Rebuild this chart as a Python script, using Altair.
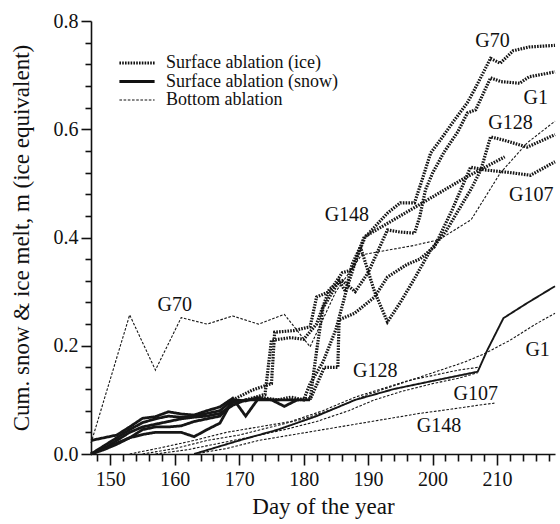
import altair as alt
import pandas as pd

# ---- surface ablation (snow), early season, plus the late G1 snow record ----
snow_a_day = [147, 151, 153, 155, 157, 159, 161, 163, 165, 167, 169, 171, 173, 175, 177, 179, 181]
snow_a_val = [0.025, 0.035, 0.050, 0.066, 0.069, 0.078, 0.074, 0.072, 0.080, 0.087, 0.103, 0.070, 0.103, 0.100, 0.088, 0.100, 0.100]
snow_b_day = [147, 149, 151, 153, 155, 157, 159, 161, 163, 165, 167, 169]
snow_b_val = [0.0, 0.015, 0.030, 0.045, 0.058, 0.065, 0.070, 0.068, 0.070, 0.075, 0.080, 0.100]
snow_c_day = [147, 149, 151, 153, 155, 157, 159, 161, 163, 165, 167, 169, 171]
snow_c_val = [0.0, 0.010, 0.025, 0.040, 0.050, 0.055, 0.060, 0.065, 0.068, 0.070, 0.075, 0.090, 0.100]
snow_d_day = [147, 149, 151, 153, 155, 157, 159, 161, 163, 165, 167, 169, 171, 173]
snow_d_val = [0.0, 0.010, 0.020, 0.030, 0.036, 0.040, 0.040, 0.040, 0.032, 0.045, 0.057, 0.100, 0.098, 0.105]
snow_e_day = [147, 149, 151, 153, 155, 157, 159, 161, 163, 165, 167, 169, 171, 173, 175, 177, 179]
snow_e_val = [0.0, 0.008, 0.018, 0.030, 0.045, 0.050, 0.050, 0.052, 0.060, 0.065, 0.070, 0.095, 0.100, 0.100, 0.100, 0.100, 0.100]
snow_g1_day = [163, 170, 176, 182, 188, 194, 200, 207, 208.5, 211, 214.7, 219]
snow_g1_val = [0.0, 0.025, 0.045, 0.070, 0.100, 0.120, 0.135, 0.152, 0.192, 0.251, 0.279, 0.310]

# ---- surface ablation (ice) ----
ice_g70_day = [169, 172, 175, 175.5, 178.5, 181, 182, 184, 186, 187.5, 189.5, 193, 195, 197.2, 198.2,
               199.7, 201.2, 203.4, 205.4, 206.5, 209, 210.5, 212.5, 215, 219]
ice_g70_val = [0.100, 0.118, 0.130, 0.225, 0.228, 0.235, 0.290, 0.300, 0.335, 0.340, 0.400, 0.445, 0.464, 0.464, 0.500,
               0.556, 0.580, 0.617, 0.649, 0.673, 0.731, 0.722, 0.745, 0.752, 0.755]
ice_g1_day = [171, 174, 175, 178, 180, 182, 184, 186, 188, 190, 193, 195, 197.2, 198, 198.9, 200, 201.8,
              203.9, 205.4, 206.7, 209, 210.6, 213.5, 215, 219]
ice_g1_val = [0.100, 0.110, 0.210, 0.215, 0.212, 0.240, 0.305, 0.320, 0.300, 0.335, 0.414, 0.410, 0.408, 0.438, 0.488, 0.519, 0.558,
              0.595, 0.630, 0.636, 0.695, 0.688, 0.685, 0.697, 0.706]
ice_g128_day = [173, 176, 178, 180, 181, 183, 185, 186.8, 188.8, 191, 193, 195, 197, 199.7, 202, 204, 206,
                207.5, 209, 211, 214.7, 219]
ice_g128_val = [0.105, 0.100, 0.105, 0.100, 0.130, 0.170, 0.230, 0.310, 0.383, 0.300, 0.244, 0.280, 0.320, 0.377, 0.410, 0.450, 0.490,
                0.525, 0.586, 0.580, 0.567, 0.590]
ice_g107_day = [179, 181.1, 183.2, 185.3, 185.5, 187.9, 191, 193, 196, 198, 200.3, 203, 205.9, 208, 212, 215.2, 219]
ice_g107_val = [0.100, 0.103, 0.160, 0.160, 0.248, 0.260, 0.290, 0.327, 0.350, 0.360, 0.383, 0.450, 0.530, 0.525, 0.520, 0.515, 0.540]
ice_g148_day = [181, 182, 183, 184.5, 185.5, 186.5, 187.5, 188.8, 189.4, 195, 200, 205, 211.2]
ice_g148_val = [0.100, 0.190, 0.270, 0.300, 0.320, 0.300, 0.350, 0.383, 0.401, 0.440, 0.475, 0.510, 0.549]

# ---- bottom ablation ----
bot_g70_day = [147, 153, 157, 161, 165, 169, 173, 177, 181, 185, 189, 197, 201, 206, 210.5, 214.7, 219]
bot_g70_val = [0.020, 0.257, 0.155, 0.252, 0.240, 0.255, 0.240, 0.258, 0.198, 0.300, 0.368, 0.385, 0.396, 0.433, 0.519, 0.575, 0.615]
bot_g1_day = [155, 160, 165, 170, 175, 180, 185, 190, 195, 200, 205, 208, 212, 216, 219]
bot_g1_val = [0.0, 0.010, 0.025, 0.035, 0.050, 0.065, 0.085, 0.110, 0.130, 0.150, 0.170, 0.185, 0.210, 0.240, 0.260]
bot_g128_day = [153, 158, 163, 168, 173, 178, 183, 188, 192, 196, 200, 204, 207]
bot_g128_val = [0.0, 0.012, 0.025, 0.040, 0.050, 0.060, 0.080, 0.105, 0.120, 0.135, 0.145, 0.155, 0.160]
bot_g107_day = [157, 162, 167, 172, 177, 182, 187, 191, 195, 200, 204, 207]
bot_g107_val = [0.0, 0.008, 0.020, 0.032, 0.045, 0.060, 0.080, 0.100, 0.115, 0.130, 0.140, 0.150]
bot_g148_day = [163, 168, 173, 178, 183, 188, 193, 198, 203, 207, 209.6]
bot_g148_val = [0.0, 0.010, 0.025, 0.035, 0.045, 0.055, 0.065, 0.075, 0.083, 0.090, 0.094]

# ---- glacier labels ----
label_text = ["G70", "G70", "G1", "G128", "G107", "G148", "G128", "G107", "G148", "G1"]
label_day = [160.0, 209.3, 216.0, 212.1, 215.3, 186.7, 191.1, 206.7, 201.0, 216.3]
label_val = [0.275, 0.763, 0.658, 0.612, 0.479, 0.442, 0.153, 0.111, 0.052, 0.192]

ICE = "Surface ablation (ice)"
SNOW = "Surface ablation (snow)"
BOTTOM = "Bottom ablation"
SNOW_LATE = "Surface ablation (snow), late"

series = [
    ("snow_a", SNOW, snow_a_day, snow_a_val),
    ("snow_b", SNOW, snow_b_day, snow_b_val),
    ("snow_c", SNOW, snow_c_day, snow_c_val),
    ("snow_d", SNOW, snow_d_day, snow_d_val),
    ("snow_e", SNOW, snow_e_day, snow_e_val),
    ("snow_g1", SNOW_LATE, snow_g1_day, snow_g1_val),
    ("ice_g70", ICE, ice_g70_day, ice_g70_val),
    ("ice_g1", ICE, ice_g1_day, ice_g1_val),
    ("ice_g128", ICE, ice_g128_day, ice_g128_val),
    ("ice_g107", ICE, ice_g107_day, ice_g107_val),
    ("ice_g148", ICE, ice_g148_day, ice_g148_val),
    ("bot_g70", BOTTOM, bot_g70_day, bot_g70_val),
    ("bot_g1", BOTTOM, bot_g1_day, bot_g1_val),
    ("bot_g128", BOTTOM, bot_g128_day, bot_g128_val),
    ("bot_g107", BOTTOM, bot_g107_day, bot_g107_val),
    ("bot_g148", BOTTOM, bot_g148_day, bot_g148_val),
]

rows = []
for name, kind, days, vals in series:
    for i, (d, v) in enumerate(zip(days, vals)):
        rows.append({"series": name, "kind": kind, "day": d, "melt": v, "order": i})
lines_df = pd.DataFrame(rows)
labels_df = pd.DataFrame({"text": label_text, "day": label_day, "melt": label_val})

FONT = "Liberation Serif, Times New Roman, serif"
kinds = [ICE, SNOW, BOTTOM, SNOW_LATE]

x_ticks = list(range(148, 219, 2))
y_ticks = [round(i * 0.04, 2) for i in range(21)]
Y_MAJOR = "abs(datum.value * 5 - round(datum.value * 5)) < 0.001"

x_scale = alt.Scale(domain=[147, 219], nice=False, zero=False)
y_scale = alt.Scale(domain=[0, 0.8], nice=False)

x_axis = alt.Axis(
    values=x_ticks,
    labelExpr="datum.value % 10 == 0 ? datum.value : ''",
    tickSize={"condition": {"test": "datum.value % 10 == 0", "value": 11}, "value": 7},
    labelPadding=4, titlePadding=6, labelOverlap=False, labelFlush=False,
)
y_axis = alt.Axis(
    values=y_ticks,
    labelExpr=Y_MAJOR + " ? format(datum.value, '.1f') : ''",
    tickSize={"condition": {"test": Y_MAJOR, "value": 10}, "value": 6},
    labelPadding=3, titlePadding=20, labelOverlap=False, labelFlush=False,
)
X_TITLE = "Day of the year"
Y_TITLE = "Cum. snow & ice melt, m (ice equivalent)"

# short flat legend glyph: drawn wider than the nominal symbol box
legend = alt.Legend(
    title=None, orient="none", legendX=36, legendY=32, values=[ICE, SNOW, BOTTOM],
    symbolType="M-2.2,0H2.2", symbolSize=256, symbolStrokeColor="#111",
    labelFont=FONT, labelFontSize=18, labelColor="#111", labelOffset=19, labelLimit=400,
    rowPadding=-5, padding=0,
)

lines = alt.Chart(lines_df).mark_line(color="#161616").encode(
    x=alt.X("day:Q", scale=x_scale, title=X_TITLE, axis=x_axis),
    y=alt.Y("melt:Q", scale=y_scale, title=Y_TITLE, axis=y_axis),
    detail="series:N",
    order="order:Q",
    strokeDash=alt.StrokeDash("kind:N", scale=alt.Scale(type="ordinal", domain=kinds,
                                                         range=[[1.6, 1.2], [1, 0], [2.6, 1.6], [1, 0]]), legend=legend),
    strokeWidth=alt.StrokeWidth("kind:N", scale=alt.Scale(type="ordinal", domain=kinds,
                                                           range=[3.2, 2.8, 1.1, 1.9]), legend=legend),
)

labels = alt.Chart(labels_df).mark_text(font=FONT, fontSize=20, color="#111").encode(
    x=alt.X("day:Q", scale=x_scale, title=X_TITLE, axis=x_axis),
    y=alt.Y("melt:Q", scale=y_scale, title=Y_TITLE, axis=y_axis),
    text="text:N",
)

chart = alt.layer(lines, labels).properties(
    width=464, height=433,
    autosize=alt.AutoSizeParams(type="none"),
    padding={"left": 91, "top": 21, "right": 5, "bottom": 70},
    background="white",
).configure_view(stroke=None).configure_axis(
    domainColor="#111", domainWidth=1.6, tickColor="#111", tickWidth=1.6,
    labelFont=FONT, labelFontSize=20, labelColor="#111",
    titleFont=FONT, titleFontSize=23, titleFontWeight="normal", titleColor="#111",
    grid=False,
)

chart.save("out.html", embed_options={"renderer": "svg", "actions": False})
